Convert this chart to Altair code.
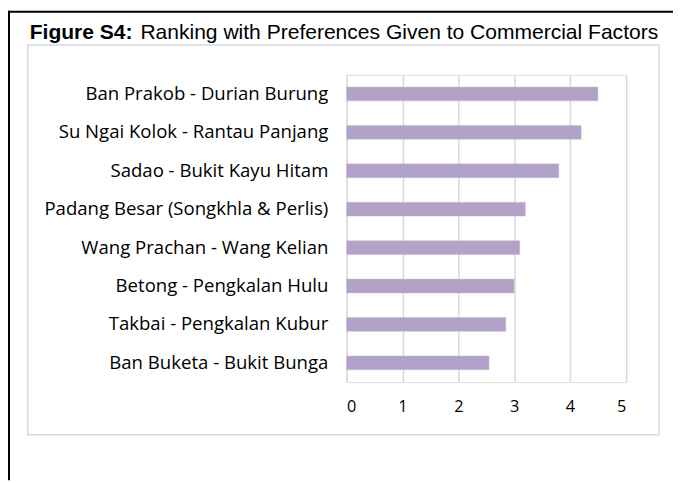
import altair as alt
import pandas as pd

routes = [
    "Ban Prakob - Durian Burung",
    "Su Ngai Kolok - Rantau Panjang",
    "Sadao - Bukit Kayu Hitam",
    "Padang Besar (Songkhla & Perlis)",
    "Wang Prachan - Wang Kelian",
    "Betong - Pengkalan Hulu",
    "Takbai - Pengkalan Kubur",
    "Ban Buketa - Bukit Bunga",
]
scores = [4.5, 4.2, 3.8, 3.2, 3.1, 3.0, 2.85, 2.55]
x_ticks = [0, 1, 2, 3, 4, 5]
title_bold = "Figure S4:"
title_rest = "Ranking with Preferences Given to Commercial Factors"

df = pd.DataFrame({"route": routes, "score": scores})

PL, PT = 342.7, 64.7   # plot origin inside svg
W, H = 282.6, 311
SVG_W, SVG_H = 673, 475

one = pd.DataFrame({"a": [0]})

bars = alt.Chart(df).mark_bar(color="#B3A2C7", stroke="#C9BCDA", strokeWidth=0.5).encode(
    x=alt.X("score:Q", scale=alt.Scale(domain=[0, 5], nice=False),
            axis=alt.Axis(values=x_ticks, title=None, grid=True, gridColor="#D9D9D9",
                          gridWidth=1.5, domain=False, ticks=False, labelPadding=17,
                          labelFont="Open Sans", labelFontSize=16.5, labelColor="#000000")),
    y=alt.Y("route:N", sort=routes,
            scale=alt.Scale(paddingInner=0.64, paddingOuter=0.32),
            axis=alt.Axis(title=None, domain=False, ticks=False, labelPadding=19,
                          labelFont="Open Sans", labelFontSize=18.8, labelColor="#000000",
                          labelLimit=400)),
)

box = alt.Chart(one).mark_rect(fill="transparent", stroke="#D9D9D9", strokeWidth=1.5).encode(
    x=alt.value(20 - PL), x2=alt.value(659 - PL),
    y=alt.value(34.5 - PT), y2=alt.value(429 - PT),
)

frame_top = alt.Chart(one).mark_rule(color="#000000", strokeWidth=2).encode(
    x=alt.value(0 - PL), x2=alt.value(SVG_W - PL), y=alt.value(1 - PT),
)
frame_left = alt.Chart(one).mark_rule(color="#000000", strokeWidth=2).encode(
    x=alt.value(1 - PL), y=alt.value(0 - PT), y2=alt.value(SVG_H - PT),
)

t1 = alt.Chart(one).mark_text(text=title_bold, font="Liberation Sans", fontSize=21.3,
                              fontWeight="bold", align="left", baseline="alphabetic",
                              color="#000000").encode(
    x=alt.value(22 - PL), y=alt.value(28.5 - PT))
t2 = alt.Chart(one).mark_text(text=title_rest, font="Liberation Sans", fontSize=21.3,
                              align="left", baseline="alphabetic", color="#000000").encode(
    x=alt.value(134 - PL), y=alt.value(28.5 - PT))

chart = alt.layer(box, bars, frame_top, frame_left, t1, t2).properties(
    width=W, height=H,
    autosize=alt.AutoSizeParams(type="none"),
    padding={"left": PL, "top": PT, "right": SVG_W - PL - W, "bottom": SVG_H - PT - H},
).configure_view(stroke=None).configure(background="white")

chart.save("out.html", embed_options={"renderer": "svg", "actions": False})
